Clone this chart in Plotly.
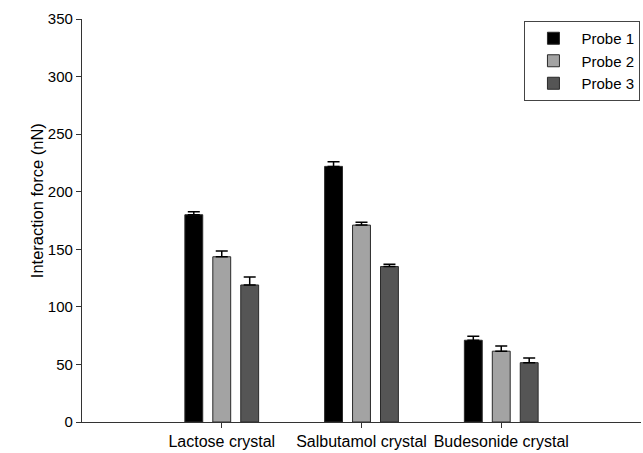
import plotly.graph_objects as go

categories = ["Lactose crystal", "Salbutamol crystal", "Budesonide crystal"]
probe1 = [180, 222, 71]
probe1_err = [2.5, 4, 3.5]
probe2 = [143.5, 171, 61.5]
probe2_err = [5, 2.5, 4.5]
probe3 = [119, 135, 51.5]
probe3_err = [7, 2, 4]
series_names = ["Probe 1", "Probe 2", "Probe 3"]
colors = ["#000000", "#a3a3a3", "#555555"]
y_title = "Interaction force (nN)"

fig = go.Figure()
for name, vals, errs, col in zip(series_names, [probe1, probe2, probe3],
                                 [probe1_err, probe2_err, probe3_err], colors):
    fig.add_trace(go.Bar(
        x=categories, y=vals, name=name,
        marker=dict(color=col, line=dict(color="#2a2a2a", width=1)),
        error_y=dict(type="data", array=errs, arrayminus=[0] * len(errs),
                     symmetric=False, color="#000000", thickness=1.5, width=6),
    ))

fig.update_layout(
    width=643, height=453,
    margin=dict(l=82, r=2, t=19, b=31, autoexpand=False),
    paper_bgcolor="white", plot_bgcolor="white",
    barmode="group", bargap=0.4, bargroupgap=0.36,
    font=dict(family="Liberation Sans, Arial, sans-serif", color="#000000", size=15),
    legend=dict(x=0.999, y=0.995, xanchor="right", yanchor="top",
                bordercolor="#444444", borderwidth=1, bgcolor="white",
                font=dict(size=15), tracegroupgap=0, itemwidth=46),
    showlegend=True,
)
fig.add_annotation(
    text=y_title, textangle=-90, xref="paper", yref="paper",
    x=-0.0805, y=0.548, xanchor="center", yanchor="middle",
    showarrow=False, font=dict(size=16.5),
)
fig.update_xaxes(
    range=[-1, 3], showline=True, linecolor="#333333", linewidth=1.2,
    ticks="outside", ticklen=5, tickcolor="#333333", showgrid=False,
    tickfont=dict(size=16), automargin=False,
)
fig.update_yaxes(
    range=[0, 350], dtick=50, showline=True, linecolor="#333333", linewidth=1.2,
    ticks="outside", ticklen=5, tickcolor="#333333", showgrid=False, zeroline=False,
    tickfont=dict(size=15), automargin=False,
)

fig.write_html(
    "out.html",
    config={"displayModeBar": False},
    post_script="document.body.style.margin='0';document.body.style.overflow='hidden';",
)
